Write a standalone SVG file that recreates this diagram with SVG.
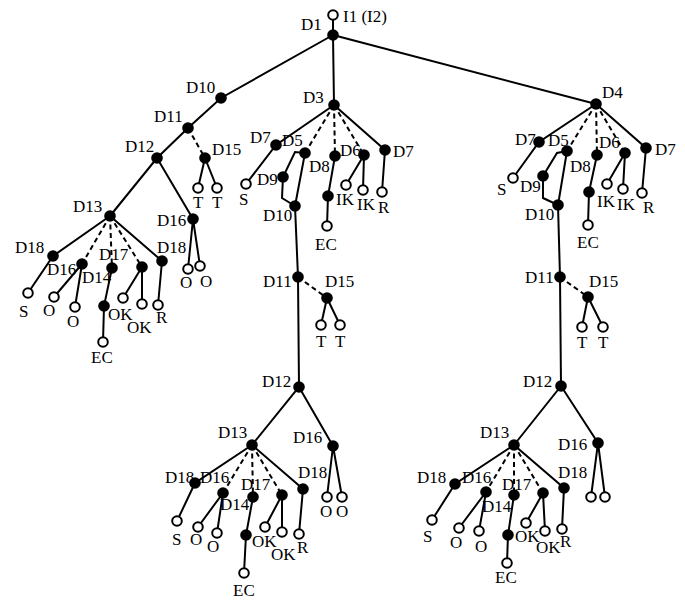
<svg xmlns="http://www.w3.org/2000/svg" width="685" height="605" viewBox="0 0 685 605">
<style>
.e{stroke:#000;stroke-width:2;fill:none}
.d{stroke:#000;stroke-width:2;fill:none;stroke-dasharray:5,3.5}
.f{fill:#000}
.o{fill:#fff;stroke:#000;stroke-width:2}
text{font-family:"Liberation Serif","Times New Roman",serif;font-size:17px;fill:#000}
</style>
<rect width="685" height="605" fill="#fff"/>
<g id="connectors">
<path class="e" d="M333,15 L333,35 M333,35 L221,98 L188,128 L157,158 L110,216 M333,35 L334,105 M333,35 L596,104"/>
<path class="d" d="M188,128 L205,158"/>
<path class="e" d="M205,158 L198,188 M205,158 L217,188"/>
<path class="e" d="M157,158 L193,219 L188,269 M193,219 L200,266"/>
<path class="e" d="M110,216 L53,256 L28,293 M110,216 L162,261 L158,305"/>
<path class="d" d="M110,216 L82,264 M110,216 L112,268 M110,216 L142,267"/>
<path class="e" d="M82,264 L54,297 M82,264 L75,307 M112,268 L104,306 L103,342 M142,267 L123,298 M142,267 L142,304"/>
<path class="e" d="M334,105 L276,145 L246,184 M334,105 L385,150 L382,192"/>
<path class="d" d="M334,105 L305,153 M334,105 L335,156 M334,105 L364,155"/>
<path class="e" d="M305,153 L295,152 L283,177 L282,198 L295,206 M305,153 L295,206 M335,156 L328,196 L327,226 M364,155 L346,185 M364,155 L363,190"/>
<path class="e" d="M295,206 L298,277 L299,387 L252,445 M299,387 L333,446 L327,497 M333,446 L342,497"/>
<path class="d" d="M298,277 L327,298"/>
<path class="e" d="M327,298 L321,325 M327,298 L340,325"/>
<path class="e" d="M252,445 L195,483 L177,521 M252,445 L303,489 L299,534"/>
<path class="d" d="M252,445 L223,493 M252,445 L253,497 M252,445 L282,495"/>
<path class="e" d="M223,493 L198,527 M223,493 L217,533 M253,497 L246,535 L244,573 M282,495 L265,527 M282,495 L282,532"/>
<path class="e" d="M596,104 L539,142 L513,178 M596,104 L646,148 L642,193"/>
<path class="d" d="M596,104 L567,151 M596,104 L597,155 M596,104 L625,153"/>
<path class="e" d="M567,151 L557,153 L543,176 L543,198 L558,205 M567,151 L558,205 M597,155 L589,192 L588,225 M625,153 L607,184 M625,153 L623,189"/>
<path class="e" d="M558,205 L560,277 L561,386 L514,445 M561,386 L598,443 L591,497 M598,443 L605,497"/>
<path class="d" d="M560,277 L588,297"/>
<path class="e" d="M588,297 L582,327 M588,297 L603,327"/>
<path class="e" d="M514,445 L455,484 L432,520 M514,445 L564,488 L562,529"/>
<path class="d" d="M514,445 L486,492 M514,445 L514,495 M514,445 L543,493"/>
<path class="e" d="M486,492 L459,528 M486,492 L479,531 M514,495 L508,535 L507,563 M543,493 L526,523 M543,493 L545,531"/>
</g>
<g id="I1"><circle class="o" cx="333" cy="15" r="4.8"/><text x="343" y="22">I1 (I2)</text></g>
<g id="D1"><circle class="f" cx="333" cy="35" r="5.8"/><text x="301" y="30">D1</text></g>
<g id="D10"><circle class="f" cx="221" cy="98" r="5.8"/><text x="186" y="93">D10</text></g>
<g id="D11L"><circle class="f" cx="188" cy="128" r="5.8"/><text x="154" y="122">D11</text></g>
<g id="D12L"><circle class="f" cx="157" cy="158" r="5.8"/><text x="125" y="152">D12</text></g>
<g id="D15L"><circle class="f" cx="205" cy="158" r="5.8"/><text x="212" y="155">D15</text></g>
<g id="TL1"><circle class="o" cx="198" cy="188" r="4.8"/><text x="193" y="208">T</text></g>
<g id="TL2"><circle class="o" cx="217" cy="188" r="4.8"/><text x="212" y="208">T</text></g>
<g id="D3"><circle class="f" cx="334" cy="105" r="5.8"/><text x="303" y="103">D3</text></g>
<g id="D4"><circle class="f" cx="596" cy="104" r="5.8"/><text x="602" y="98">D4</text></g>
<g id="D13L"><circle class="f" cx="110" cy="216" r="5.8"/><text x="73" y="212">D13</text></g>
<g id="D16Lr"><circle class="f" cx="193" cy="219" r="5.8"/><text x="157" y="226">D16</text></g>
<g id="OLr1"><circle class="o" cx="188" cy="269" r="4.8"/><text x="180" y="288">O</text></g>
<g id="OLr2"><circle class="o" cx="200" cy="266" r="4.8"/><text x="200" y="287">O</text></g>
<g id="D18La"><circle class="f" cx="53" cy="256" r="5.8"/><text x="15" y="253">D18</text></g>
<g id="D16La"><circle class="f" cx="82" cy="264" r="5.8"/><text x="47" y="275">D16</text></g>
<g id="D17L"><circle class="f" cx="112" cy="268" r="5.8"/><text x="99" y="260">D17</text></g>
<g id="NL"><circle class="f" cx="142" cy="267" r="5.8"/></g>
<g id="D18Lb"><circle class="f" cx="162" cy="261" r="5.8"/><text x="157" y="253">D18</text></g>
<g id="D14L"><circle class="f" cx="104" cy="306" r="5.8"/><text x="82" y="283">D14</text><text x="108" y="320">OK</text></g>
<g id="ECL"><circle class="o" cx="103" cy="342" r="4.8"/><text x="91" y="363">EC</text></g>
<g id="SL"><circle class="o" cx="28" cy="293" r="4.8"/><text x="19" y="317">S</text></g>
<g id="OL1"><circle class="o" cx="54" cy="297" r="4.8"/><text x="43" y="316">O</text></g>
<g id="OL2"><circle class="o" cx="75" cy="307" r="4.8"/><text x="67" y="327">O</text></g>
<g id="CL1"><circle class="o" cx="123" cy="298" r="4.8"/></g>
<g id="CL2"><circle class="o" cx="142" cy="304" r="4.8"/><text x="127" y="333">OK</text></g>
<g id="RL"><circle class="o" cx="158" cy="305" r="4.8"/><text x="156" y="323">R</text></g>
<g id="D7Ma"><circle class="f" cx="276" cy="145" r="5.8"/><text x="250" y="143">D7</text></g>
<g id="D5M"><circle class="f" cx="305" cy="153" r="5.8"/><text x="282" y="146">D5</text></g>
<g id="D8M"><circle class="f" cx="335" cy="156" r="5.8"/><text x="309" y="172">D8</text></g>
<g id="D6M"><circle class="f" cx="364" cy="155" r="5.8"/><text x="340" y="156">D6</text></g>
<g id="D7Mb"><circle class="f" cx="385" cy="150" r="5.8"/><text x="393" y="157">D7</text></g>
<g id="SM"><circle class="o" cx="246" cy="184" r="4.8"/><text x="239" y="205">S</text></g>
<g id="D9M"><circle class="f" cx="283" cy="177" r="5.8"/><text x="257" y="185">D9</text></g>
<g id="D10M"><circle class="f" cx="295" cy="206" r="5.8"/><text x="263" y="221">D10</text></g>
<g id="IKM"><circle class="f" cx="328" cy="196" r="5.8"/><text x="336" y="205">IK</text></g>
<g id="CM1"><circle class="o" cx="346" cy="185" r="4.8"/></g>
<g id="CM2"><circle class="o" cx="363" cy="190" r="4.8"/><text x="357" y="210">IK</text></g>
<g id="RMt"><circle class="o" cx="382" cy="192" r="4.8"/><text x="378" y="213">R</text></g>
<g id="ECMt"><circle class="o" cx="327" cy="226" r="4.8"/><text x="315" y="250">EC</text></g>
<g id="D11M"><circle class="f" cx="298" cy="277" r="5.8"/><text x="263" y="287">D11</text></g>
<g id="D15M"><circle class="f" cx="327" cy="298" r="5.8"/><text x="325" y="287">D15</text></g>
<g id="TM1"><circle class="o" cx="321" cy="325" r="4.8"/><text x="316" y="347">T</text></g>
<g id="TM2"><circle class="o" cx="340" cy="325" r="4.8"/><text x="335" y="347">T</text></g>
<g id="D12M"><circle class="f" cx="299" cy="387" r="5.8"/><text x="262" y="387">D12</text></g>
<g id="D13M"><circle class="f" cx="252" cy="445" r="5.8"/><text x="218" y="438">D13</text></g>
<g id="D16Mr"><circle class="f" cx="333" cy="446" r="5.8"/><text x="293" y="443">D16</text></g>
<g id="OMr1"><circle class="o" cx="327" cy="497" r="4.8"/><text x="320" y="517">O</text></g>
<g id="OMr2"><circle class="o" cx="342" cy="497" r="4.8"/><text x="336" y="517">O</text></g>
<g id="D18Ma"><circle class="f" cx="195" cy="483" r="5.8"/><text x="165" y="483">D18</text></g>
<g id="D16Ma"><circle class="f" cx="223" cy="493" r="5.8"/><text x="200" y="483">D16</text></g>
<g id="D17M"><circle class="f" cx="253" cy="497" r="5.8"/><text x="241" y="490">D17</text></g>
<g id="NM"><circle class="f" cx="282" cy="495" r="5.8"/></g>
<g id="D18Mb"><circle class="f" cx="303" cy="489" r="5.8"/><text x="298" y="478">D18</text></g>
<g id="D14M"><circle class="f" cx="246" cy="535" r="5.8"/><text x="220" y="510">D14</text><text x="252" y="547">OK</text></g>
<g id="ECM"><circle class="o" cx="244" cy="573" r="4.8"/><text x="233" y="596">EC</text></g>
<g id="SMb"><circle class="o" cx="177" cy="521" r="4.8"/><text x="172" y="545">S</text></g>
<g id="OM1"><circle class="o" cx="198" cy="527" r="4.8"/><text x="190" y="545">O</text></g>
<g id="OM2"><circle class="o" cx="217" cy="533" r="4.8"/><text x="207" y="552">O</text></g>
<g id="CMb1"><circle class="o" cx="265" cy="527" r="4.8"/></g>
<g id="CMb2"><circle class="o" cx="282" cy="532" r="4.8"/><text x="271" y="560">OK</text></g>
<g id="RM"><circle class="o" cx="299" cy="534" r="4.8"/><text x="297" y="553">R</text></g>
<g id="D7Ra"><circle class="f" cx="539" cy="142" r="5.8"/><text x="515" y="145">D7</text></g>
<g id="D5R"><circle class="f" cx="567" cy="151" r="5.8"/><text x="548" y="146">D5</text></g>
<g id="D8R"><circle class="f" cx="597" cy="155" r="5.8"/><text x="570" y="172">D8</text></g>
<g id="D6R"><circle class="f" cx="625" cy="153" r="5.8"/><text x="599" y="148">D6</text></g>
<g id="D7Rb"><circle class="f" cx="646" cy="148" r="5.8"/><text x="655" y="155">D7</text></g>
<g id="SR"><circle class="o" cx="513" cy="178" r="4.8"/><text x="497" y="195">S</text></g>
<g id="D9R"><circle class="f" cx="543" cy="176" r="5.8"/><text x="520" y="192">D9</text></g>
<g id="D10R"><circle class="f" cx="558" cy="205" r="5.8"/><text x="525" y="220">D10</text></g>
<g id="IKR"><circle class="f" cx="589" cy="192" r="5.8"/><text x="597" y="207">IK</text></g>
<g id="CR1"><circle class="o" cx="607" cy="184" r="4.8"/></g>
<g id="CR2"><circle class="o" cx="623" cy="189" r="4.8"/><text x="617" y="210">IK</text></g>
<g id="RRt"><circle class="o" cx="642" cy="193" r="4.8"/><text x="643" y="213">R</text></g>
<g id="ECRt"><circle class="o" cx="588" cy="225" r="4.8"/><text x="577" y="248">EC</text></g>
<g id="D11R"><circle class="f" cx="560" cy="277" r="5.8"/><text x="525" y="283">D11</text></g>
<g id="D15R"><circle class="f" cx="588" cy="297" r="5.8"/><text x="589" y="287">D15</text></g>
<g id="TR1"><circle class="o" cx="582" cy="327" r="4.8"/><text x="577" y="348">T</text></g>
<g id="TR2"><circle class="o" cx="603" cy="327" r="4.8"/><text x="598" y="348">T</text></g>
<g id="D12R"><circle class="f" cx="561" cy="386" r="5.8"/><text x="523" y="387">D12</text></g>
<g id="D13R"><circle class="f" cx="514" cy="445" r="5.8"/><text x="480" y="438">D13</text></g>
<g id="D16Rr"><circle class="f" cx="598" cy="443" r="5.8"/><text x="558" y="450">D16</text></g>
<g id="CRr1"><circle class="o" cx="591" cy="497" r="4.8"/></g>
<g id="CRr2"><circle class="o" cx="605" cy="497" r="4.8"/></g>
<g id="D18Ra"><circle class="f" cx="455" cy="484" r="5.8"/><text x="417" y="483">D18</text></g>
<g id="D16Ra"><circle class="f" cx="486" cy="492" r="5.8"/><text x="462" y="483">D16</text></g>
<g id="D17R"><circle class="f" cx="514" cy="495" r="5.8"/><text x="502" y="490">D17</text></g>
<g id="NR"><circle class="f" cx="543" cy="493" r="5.8"/></g>
<g id="D18Rb"><circle class="f" cx="564" cy="488" r="5.8"/><text x="558" y="478">D18</text></g>
<g id="D14R"><circle class="f" cx="508" cy="535" r="5.8"/><text x="482" y="512">D14</text><text x="515" y="542">OK</text></g>
<g id="ECR"><circle class="o" cx="507" cy="563" r="4.8"/><text x="495" y="583">EC</text></g>
<g id="SRb"><circle class="o" cx="432" cy="520" r="4.8"/><text x="423" y="542">S</text></g>
<g id="OR1"><circle class="o" cx="459" cy="528" r="4.8"/><text x="450" y="548">O</text></g>
<g id="OR2"><circle class="o" cx="479" cy="531" r="4.8"/><text x="475" y="552">O</text></g>
<g id="CRb1"><circle class="o" cx="526" cy="523" r="4.8"/></g>
<g id="CRb2"><circle class="o" cx="545" cy="531" r="4.8"/><text x="536" y="553">OK</text></g>
<g id="RR"><circle class="o" cx="562" cy="529" r="4.8"/><text x="560" y="547">R</text></g>
</svg>
